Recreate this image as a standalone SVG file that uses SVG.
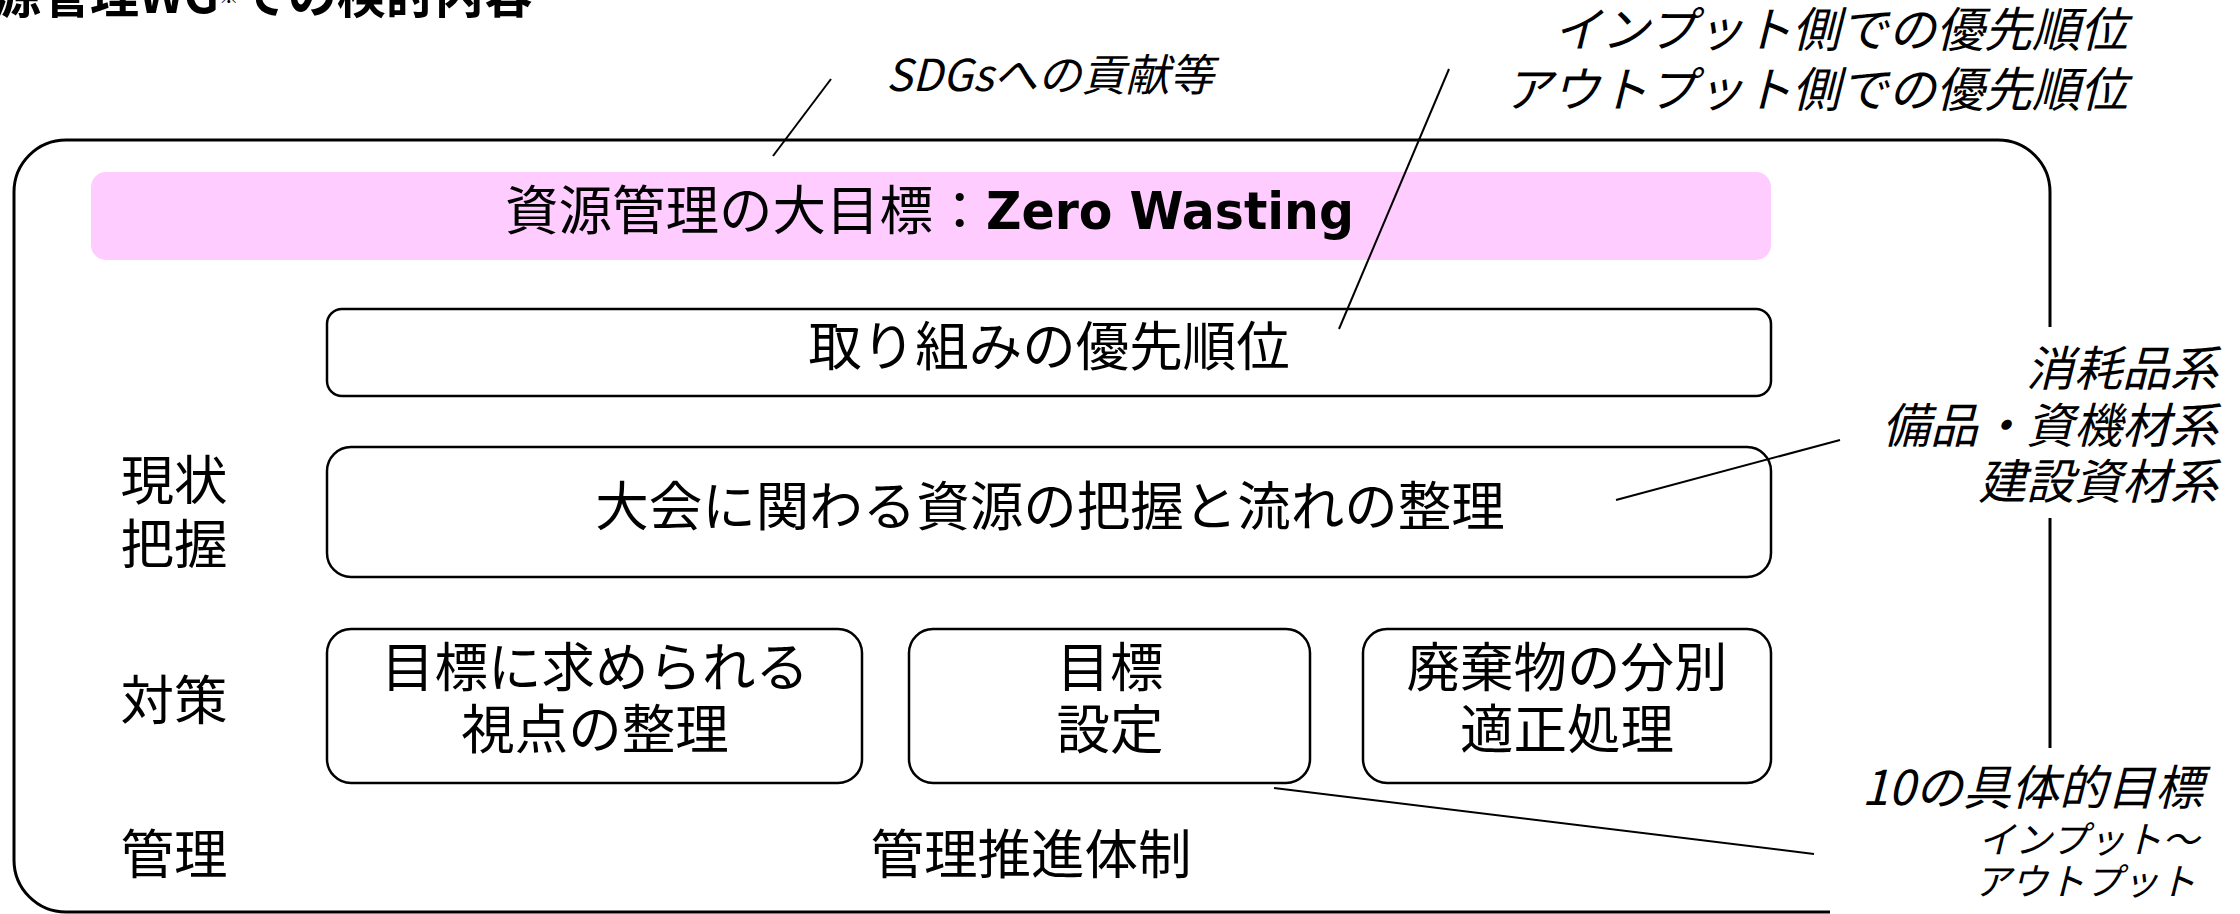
<svg xmlns="http://www.w3.org/2000/svg" width="2240" height="914" viewBox="0 0 2240 914">
<style>
.t{font-family:"Noto Sans CJK JP","Noto Sans",sans-serif;font-size:53.5px;fill:#000}
.c{text-anchor:middle}
.i{font-family:"Noto Sans CJK JP","Noto Sans",sans-serif;font-style:italic;fill:#000}
.box{fill:#fff;stroke:#000;stroke-width:2.5}
.ln{fill:none;stroke:#000;stroke-width:2}
</style>
<rect width="2240" height="914" fill="#fff"/>
<g id="title">
<text x="-8" y="13" font-family="'Noto Sans CJK JP',sans-serif" font-size="49" font-weight="bold">源管理WG<tspan font-size="20" dy="-9">※</tspan><tspan dy="9">での検討内容</tspan></text>
</g>
<g id="frame">
<path d="M1830 912 H66 A52 52 0 0 1 14 860 V192 A52 52 0 0 1 66 140 H1998 A52 52 0 0 1 2050 192 V327 M2050 518 V748" fill="none" stroke="#000" stroke-width="3"/>
</g>
<g id="goal">
<rect x="91" y="172" width="1680" height="88" rx="15" fill="#FFCCFF"/>
<text class="t" x="505" y="230">資源管理の大目標：</text>
<text x="986" y="229" font-family="'DejaVu Sans',Verdana,sans-serif" font-weight="bold" font-size="51" textLength="368" lengthAdjust="spacingAndGlyphs">Zero Wasting</text>
</g>
<g id="priority">
<rect class="box" x="327" y="309" width="1444" height="87" rx="15"/>
<text class="t c" x="1049" y="366">取り組みの優先順位</text>
</g>
<g id="grasp">
<rect class="box" x="327" y="447" width="1444" height="130" rx="24"/>
<text class="t c" x="1050" y="526">大会に関わる資源の把握と流れの整理</text>
</g>
<g id="viewpoint">
<rect class="box" x="327" y="629" width="535" height="154" rx="24"/>
<text class="t c" x="595" y="687">目標に求められる</text>
<text class="t c" x="595" y="749">視点の整理</text>
</g>
<g id="target">
<rect class="box" x="909" y="629" width="401" height="154" rx="24"/>
<text class="t c" x="1110" y="687">目標</text>
<text class="t c" x="1110" y="749">設定</text>
</g>
<g id="waste">
<rect class="box" x="1363" y="629" width="408" height="154" rx="24"/>
<text class="t c" x="1567" y="687">廃棄物の分別</text>
<text class="t c" x="1567" y="749">適正処理</text>
</g>
<g id="mgmt">
<text class="t c" x="1031" y="874">管理推進体制</text>
</g>
<g id="rowlabels">
<text class="t c" x="174" y="500">現状</text>
<text class="t c" x="174" y="564">把握</text>
<text class="t c" x="174" y="720">対策</text>
<text class="t c" x="174" y="874">管理</text>
</g>
<g id="notes">
<text class="i" x="886" y="91" font-size="44">SDGsへの貢献等</text>
<text class="i" x="2128" y="47" font-size="48" text-anchor="end">インプット側での優先順位</text>
<text class="i" x="2128" y="107" font-size="48" text-anchor="end">アウトプット側での優先順位</text>
<text class="i" x="2218" y="386" font-size="48" text-anchor="end">消耗品系</text>
<text class="i" x="2218" y="443" font-size="48" text-anchor="end">備品・資機材系</text>
<text class="i" x="2218" y="499" font-size="48" text-anchor="end">建設資材系</text>
<text class="i" x="2203" y="805" font-size="48" text-anchor="end">10の具体的目標</text>
<text class="i" x="2199" y="853" font-size="37" text-anchor="end">インプット～</text>
<text class="i" x="2196" y="895" font-size="37" text-anchor="end">アウトプット</text>
</g>
<g id="connectors">
<line class="ln" x1="831" y1="79" x2="773" y2="156"/>
<line class="ln" x1="1449" y1="69" x2="1339" y2="329"/>
<line class="ln" x1="1840" y1="440" x2="1616" y2="500"/>
<line class="ln" x1="1274" y1="788" x2="1814" y2="854"/>
</g>
</svg>
